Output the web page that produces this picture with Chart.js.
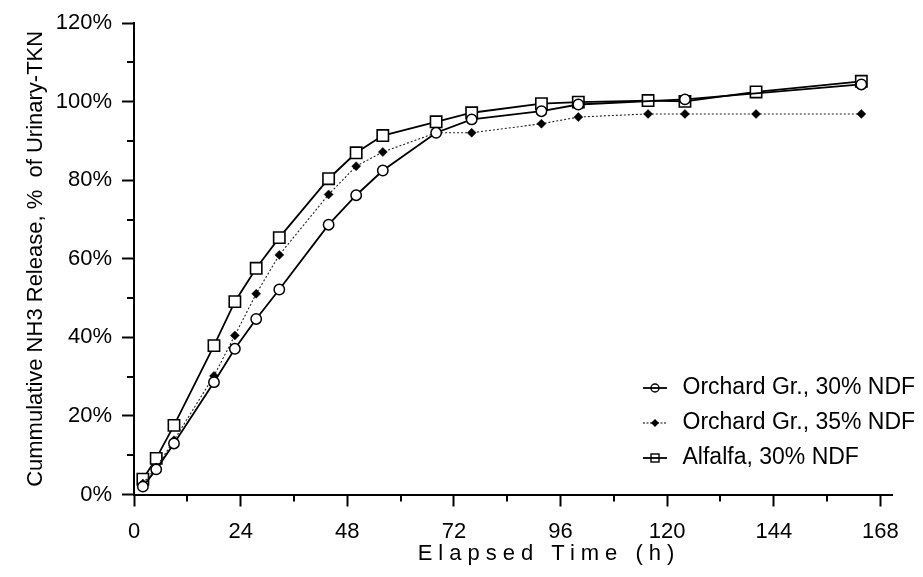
<!DOCTYPE html>
<html>
<head>
<meta charset="utf-8">
<script src="https://cdn.jsdelivr.net/npm/chart.js@4.4.1/dist/chart.umd.min.js"></script>
<style>
html,body{margin:0;padding:0;background:#fff;}
canvas{display:block;}
</style>
</head>
<body>
<canvas id="c" width="923" height="577" style="width:923px;height:577px"></canvas>
<script>
// ---- data ----
const hours      = [2, 5, 9, 18, 22.7, 27.5, 32.7, 43.8, 50, 56, 68, 76, 91.7, 100, 115.7, 124, 140, 163.7];
const orchard30  = [2.0, 6.4, 13.0, 28.6, 37.1, 44.7, 52.2, 68.7, 76.2, 82.5, 92.1, 95.5, 97.6, 99.3, null, 100.6, null, 104.4];
const orchard35  = [2.8, 6.9, 13.8, 30.2, 40.5, 51.1, 61.0, 76.4, 83.6, 87.2, 92.1, 92.1, 94.4, 96.1, 96.9, 96.9, 96.9, 96.9];
const alfalfa30  = [3.9, 9.2, 17.6, 37.9, 49.1, 57.6, 65.4, 80.4, 87.0, 91.4, 94.9, 97.2, 99.5, 99.9, 100.3, 100.1, 102.5, 105.2];
const seriesNames = ['Orchard Gr., 30% NDF', 'Orchard Gr., 35% NDF', 'Alfalfa, 30% NDF'];

const xTickValues = [0, 24, 48, 72, 96, 120, 144, 168];
const xTickLabels = ['0', '24', '48', '72', '96', '120', '144', '168'];
const xMinorTicks = [12, 36, 60, 84, 108, 132, 156];
const yTickValues = [0, 20, 40, 60, 80, 100, 120];
const yTickLabels = ['0%', '20%', '40%', '60%', '80%', '100%', '120%'];
const yMinorTicks = [10, 30, 50, 70, 90, 110];
const xTitle = 'Elapsed Time (h)';
const yTitle = 'Cummulative NH3 Release, %  of Urinary-TKN';

// ---- helpers ----
const FONT = "'Liberation Sans', Arial, Helvetica, sans-serif";
Chart.defaults.font.family = FONT;
Chart.defaults.color = '#000';

function toPoints(vals) {
  const out = [];
  vals.forEach((v, i) => { if (v !== null) out.push({ x: hours[i], y: v }); });
  return out;
}

// x scale whose title is drawn letter-spaced (as in the reference)
class SpacedLinear extends Chart.LinearScale {
  drawTitle() {
    const ctx = this.ctx;
    ctx.save();
    ctx.letterSpacing = '6px';
    ctx.translate(36, 0);
    super.drawTitle();
    ctx.restore();
  }
}
SpacedLinear.id = 'spacedLinear';
SpacedLinear.defaults = Chart.LinearScale.defaults;
Chart.register(SpacedLinear);

// legend icons: short line with marker
function makeIcon(kind) {
  const cv = document.createElement('canvas');
  cv.width = 28; cv.height = 14;
  const g = cv.getContext('2d');
  g.strokeStyle = '#000';
  g.fillStyle = '#000';
  g.beginPath();
  if (kind === 'diamond') { g.setLineDash([2, 1.5]); g.lineWidth = 1.2; } else { g.lineWidth = 1.8; }
  g.moveTo(0, 7); g.lineTo(24, 7); g.stroke();
  g.setLineDash([]);
  g.lineWidth = 1.4;
  if (kind === 'circle') {
    g.beginPath(); g.arc(12, 7, 4, 0, Math.PI * 2); g.stroke();
  } else if (kind === 'diamond') {
    g.beginPath(); g.moveTo(12, 3); g.lineTo(16, 7); g.lineTo(12, 11); g.lineTo(8, 7); g.closePath(); g.fill();
  } else {
    g.strokeRect(8, 3, 8, 8);
  }
  return cv;
}
const legendIcons = [makeIcon('circle'), makeIcon('diamond'), makeIcon('square')];

const minorTicks = {
  id: 'minorTicks',
  afterDraw(chart) {
    const ctx = chart.ctx, xs = chart.scales.x, ys = chart.scales.y, a = chart.chartArea;
    ctx.save();
    ctx.strokeStyle = '#000';
    ctx.lineWidth = 2;
    ctx.beginPath();
    xMinorTicks.forEach(v => { const p = Math.round(xs.getPixelForValue(v)); ctx.moveTo(p, a.bottom); ctx.lineTo(p, a.bottom + 7); });
    yMinorTicks.forEach(v => { const p = Math.round(ys.getPixelForValue(v)); ctx.moveTo(a.left, p); ctx.lineTo(a.left - 7, p); });
    ctx.stroke();
    ctx.restore();
  }
};

const placeLegend = {
  id: 'placeLegend',
  beforeDraw(chart) {
    const lg = chart.legend;
    if (!lg) return;
    lg.left = 631; lg.top = 364.5; lg.right = 923; lg.bottom = 577;
  }
};

new Chart(document.getElementById('c'), {
  type: 'line',
  data: {
    datasets: [
      {
        label: seriesNames[0], data: toPoints(orchard30), spanGaps: true,
        borderColor: '#000', borderWidth: 1.8,
        pointStyle: 'circle', pointRadius: 5.2, pointBorderWidth: 1.5,
        pointBackgroundColor: '#fff', pointBorderColor: '#000'
      },
      {
        label: seriesNames[1], data: toPoints(orchard35),
        borderColor: '#222', borderWidth: 1.1, borderDash: [2, 2],
        pointStyle: 'rectRot', pointRadius: 4.5, pointBorderWidth: 0.5,
        pointBackgroundColor: '#000', pointBorderColor: '#000'
      },
      {
        label: seriesNames[2], data: toPoints(alfalfa30),
        borderColor: '#000', borderWidth: 1.8,
        pointStyle: 'rect', pointRadius: 8, pointBorderWidth: 1.6,
        pointBackgroundColor: '#fff', pointBorderColor: '#000'
      }
    ]
  },
  options: {
    responsive: false,
    animation: false,
    devicePixelRatio: 1,
    layout: { padding: { top: 22, right: 31, left: 0, bottom: 0 } },
    elements: { line: { tension: 0 } },
    scales: {
      x: {
        type: 'spacedLinear', min: 0, max: 170.6,
        afterBuildTicks: s => { s.ticks = xTickValues.map(v => ({ value: v })); },
        afterFit: s => { s.height = 82.5; },
        ticks: {
          autoSkip: false, maxRotation: 0, padding: 12,
          font: { size: 22 }, color: '#000',
          callback: v => xTickLabels[xTickValues.indexOf(v)]
        },
        grid: { display: true, drawOnChartArea: false, drawTicks: true, tickLength: 12, tickWidth: 2, tickColor: '#000' },
        border: { display: true, color: '#000', width: 2 },
        title: { display: true, text: xTitle, font: { size: 22 }, color: '#000', padding: { top: 0, bottom: 10 } }
      },
      y: {
        type: 'linear', min: 0, max: 120,
        afterBuildTicks: s => { s.ticks = yTickValues.map(v => ({ value: v })); },
        afterFit: s => { s.width = 134; },
        ticks: {
          autoSkip: false, padding: 10,
          font: { size: 22 }, color: '#000',
          callback: v => yTickLabels[yTickValues.indexOf(v)]
        },
        grid: { display: true, drawOnChartArea: false, drawTicks: true, tickLength: 12, tickWidth: 2, tickColor: '#000' },
        border: { display: true, color: '#000', width: 2 },
        title: { display: true, text: yTitle, font: { size: 22 }, color: '#000', padding: { top: 23, bottom: 0 } }
      }
    },
    plugins: {
      tooltip: { enabled: false },
      legend: {
        display: true, position: 'chartArea', align: 'start',
        labels: {
          usePointStyle: true, pointStyleWidth: 28, padding: 12,
          font: { size: 23 }, color: '#000',
          generateLabels: chart => chart.data.datasets.map((ds, i) => ({
            text: ds.label, pointStyle: legendIcons[i], datasetIndex: i, hidden: false,
            lineWidth: 0, strokeStyle: 'rgba(0,0,0,0)', fillStyle: 'rgba(0,0,0,0)', fontColor: '#000'
          }))
        }
      }
    }
  },
  plugins: [minorTicks, placeLegend]
});
</script>
</body>
</html>
